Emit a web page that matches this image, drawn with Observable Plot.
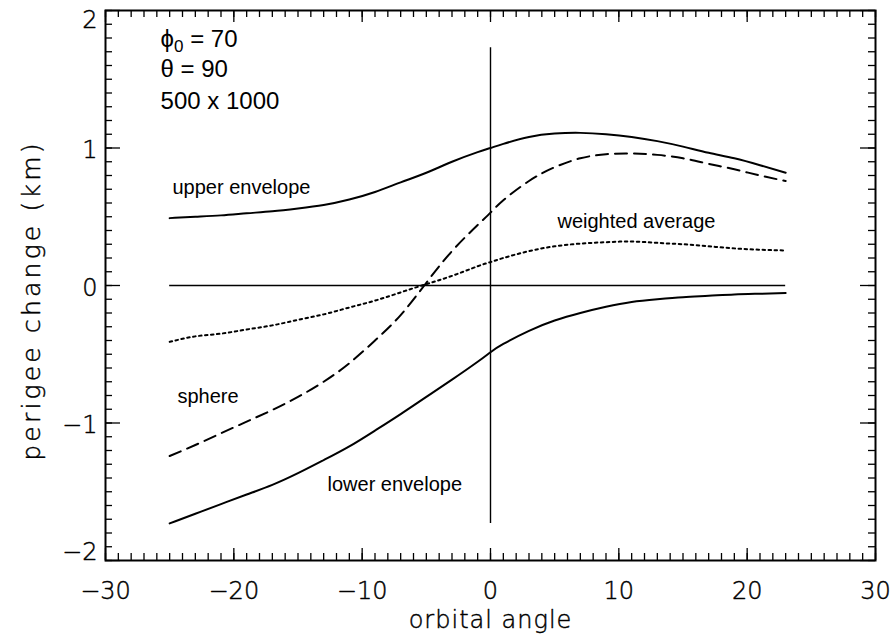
<!DOCTYPE html>
<html>
<head>
<meta charset="utf-8">
<script src="https://cdn.jsdelivr.net/npm/d3@7"></script>
<script src="https://cdn.jsdelivr.net/npm/@observablehq/plot@0.6"></script>
<style>
  html, body { margin: 0; padding: 0; background: #fff; }
  #chart { width: 891px; height: 640px; }
</style>
</head>
<body>
<div id="chart"></div>
<script>
// ---- data ----
const angle    = [-25,-23,-21,-19,-17,-15,-13,-11,-9,-7,-5,-3,-1,0,1,3,5,7,9,11,13,15,17,19,21,23];
const upper    = [0.49,0.50,0.51,0.525,0.54,0.56,0.585,0.625,0.68,0.75,0.82,0.90,0.97,1.00,1.03,1.08,1.105,1.11,1.10,1.08,1.05,1.01,0.965,0.925,0.875,0.82];
const sphere   = [-1.24,-1.16,-1.075,-0.99,-0.905,-0.81,-0.70,-0.565,-0.40,-0.215,0.02,0.25,0.44,0.53,0.62,0.76,0.86,0.925,0.955,0.96,0.95,0.925,0.885,0.845,0.80,0.76];
const lower    = [-1.73,-1.66,-1.59,-1.52,-1.45,-1.365,-1.27,-1.17,-1.055,-0.935,-0.81,-0.685,-0.555,-0.485,-0.425,-0.33,-0.255,-0.20,-0.155,-0.12,-0.10,-0.085,-0.075,-0.065,-0.06,-0.055];
const weighted = [-0.41,-0.37,-0.35,-0.32,-0.29,-0.25,-0.21,-0.16,-0.11,-0.05,0.01,0.07,0.14,0.17,0.20,0.25,0.285,0.305,0.315,0.32,0.31,0.30,0.285,0.27,0.26,0.255];
const markerSpan = [-1.73, 1.73];
const xMajor = [-30,-20,-10,0,10,20,30];
const yMajor = [-2,-1,0,1,2];
const xMinor = d3.range(-30, 31, 1);
const yMinor = d3.range(-20, 21, 1).map(d => d / 10);

const rows = angle.map((a, i) => ({angle: a, upper: upper[i], sphere: sphere[i], lower: lower[i], weighted: weighted[i]}));

// ---- layout ----
const W = 891, H = 640, mL = 105, mR = 16, mT = 10, mB = 80;
const fw = W - mL - mR, fh = H - mT - mB;
const axisFont = "'DejaVu Sans', sans-serif";
const annFont = "'Liberation Sans', Arial, Helvetica, sans-serif";
const fmt = d => d < 0 ? "\u2212" + Math.abs(d) : String(d);

const tickStyle = {stroke: "black", strokeWidth: 1.3};
const axisText = {fontSize: 24, fontFamily: axisFont, fontWeight: 200, fill: "black", stroke: "black", strokeWidth: 0.45, paintOrder: "normal"};

const chart = Plot.plot({
  width: W, height: H,
  marginLeft: mL, marginRight: mR, marginTop: mT, marginBottom: mB,
  x: {domain: [-30, 30], axis: null},
  y: {domain: [-2, 2], axis: null},
  style: {background: "white"},
  marks: [
    // ticks: bottom & top
    Plot.tickX(xMinor, {x: d => d, insetTop: fh - 7, ...tickStyle}),
    Plot.tickX(xMinor, {x: d => d, insetBottom: fh - 7, ...tickStyle}),
    Plot.tickX(xMajor, {x: d => d, insetTop: fh - 12, ...tickStyle}),
    Plot.tickX(xMajor, {x: d => d, insetBottom: fh - 12, ...tickStyle}),
    // ticks: left & right
    Plot.tickY(yMinor, {y: d => d, insetRight: fw - 7, ...tickStyle}),
    Plot.tickY(yMinor, {y: d => d, insetLeft: fw - 7, ...tickStyle}),
    Plot.tickY(yMajor, {y: d => d, insetRight: fw - 15, ...tickStyle}),
    Plot.tickY(yMajor, {y: d => d, insetLeft: fw - 15, ...tickStyle}),
    Plot.frame({stroke: "black", strokeWidth: 2}),
    // tick labels
    Plot.text(xMajor, {x: d => d, text: fmt, frameAnchor: "bottom", lineAnchor: "middle", textAnchor: "middle", dy: 30.5, ...axisText}),
    Plot.text(yMajor.filter(d => d > -2 && d < 2), {y: d => d, text: fmt, frameAnchor: "left", lineAnchor: "middle", dx: -8, dy: 2.5, textAnchor: "end", ...axisText}),
    Plot.text(yMajor.filter(d => d === 2), {y: d => d, text: fmt, frameAnchor: "left", lineAnchor: "middle", dx: -8, dy: 10, textAnchor: "end", ...axisText}),
    Plot.text(yMajor.filter(d => d === -2), {y: d => d, text: fmt, frameAnchor: "left", lineAnchor: "middle", dx: -8, dy: -8.5, textAnchor: "end", ...axisText}),
    // axis titles
    Plot.text(["orbital angle"], {frameAnchor: "bottom", lineAnchor: "middle", textAnchor: "middle", dy: 60, ...axisText}),
    Plot.text(["perigee change (km)"], {frameAnchor: "left", lineAnchor: "middle", textAnchor: "middle", dx: -74, dy: 15, rotate: -90, ...axisText, fontSize: 25}),
    // reference lines
    Plot.ruleY([0], {x1: angle[0], x2: angle[angle.length - 1], stroke: "black", strokeWidth: 1.4}),
    Plot.ruleX([0], {y1: markerSpan[0], y2: markerSpan[1], stroke: "black", strokeWidth: 1.4}),
    // curves
    Plot.line(rows, {x: "angle", y: "upper", curve: "natural", stroke: "black", strokeWidth: 2}),
    Plot.line(rows, {x: "angle", y: "lower", curve: "natural", stroke: "black", strokeWidth: 2}),
    Plot.line(rows, {x: "angle", y: "sphere", curve: "natural", stroke: "black", strokeWidth: 2, strokeDasharray: "12,7"}),
    Plot.line(rows, {x: "angle", y: "weighted", curve: "natural", stroke: "black", strokeWidth: 2, strokeDasharray: "2.5,3.5"}),
    // annotations
    Plot.text(["phi0"], {x: -25.71, y: 1.731, text: () => "\u03D50 = 70", textAnchor: "start", lineAnchor: "bottom", fontSize: 24, fontFamily: annFont, fill: "black"}),
    Plot.text(["θ = 90"], {x: -25.71, y: 1.515, textAnchor: "start", lineAnchor: "bottom", fontSize: 24, fontFamily: annFont, fill: "black"}),
    Plot.text(["500 x 1000"], {x: -25.71, y: 1.287, textAnchor: "start", lineAnchor: "bottom", fontSize: 24, fontFamily: annFont, fill: "black"}),
    Plot.text(["upper envelope"], {x: -24.78, y: 0.669, textAnchor: "start", lineAnchor: "bottom", fontSize: 20, fontFamily: annFont, fill: "black"}),
    Plot.text(["sphere"], {x: -24.39, y: -0.858, textAnchor: "start", lineAnchor: "bottom", fontSize: 20, fontFamily: annFont, fill: "black"}),
    Plot.text(["lower envelope"], {x: -12.70, y: -1.491, textAnchor: "start", lineAnchor: "bottom", fontSize: 20, fontFamily: annFont, fill: "black"}),
    Plot.text(["weighted average"], {x: 5.22, y: 0.415, textAnchor: "start", lineAnchor: "bottom", fontSize: 20, fontFamily: annFont, fill: "black"})
  ]
});

// post-process: subscript for phi_0, letter spacing of axis titles
const ns = "http://www.w3.org/2000/svg";
chart.querySelectorAll("text").forEach(t => {
  const s = t.textContent;
  if (s === "\u03D50 = 70") {
    while (t.firstChild) t.removeChild(t.firstChild);
    const a = document.createElementNS(ns, "tspan"); a.textContent = "\u03D5";
    const b = document.createElementNS(ns, "tspan"); b.textContent = "0"; b.setAttribute("dy", "5"); b.setAttribute("font-size", "17");
    const c = document.createElementNS(ns, "tspan"); c.textContent = " = 70"; c.setAttribute("dy", "-5");
    t.append(a, b, c);
  } else if (s === "perigee change (km)") {
    t.style.letterSpacing = "3.2px";
  } else if (s === "orbital angle") {
    t.style.letterSpacing = "1px";
  }
});

document.getElementById("chart").append(chart);
</script>
</body>
</html>
